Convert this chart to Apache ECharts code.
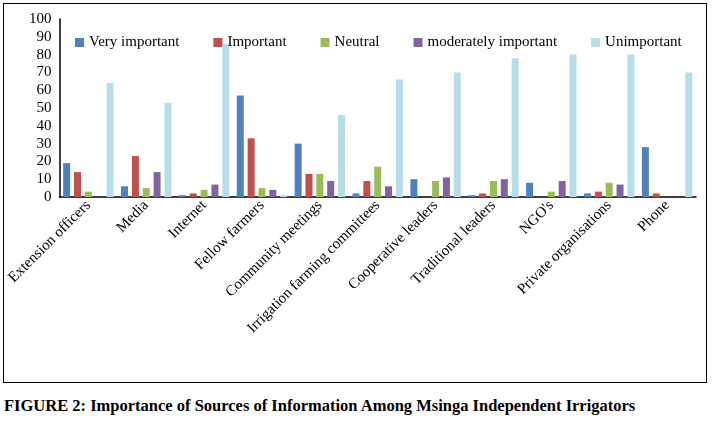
<!DOCTYPE html>
<html lang="en">
<head>
	<meta charset="UTF-8">
	<script src="https://cdn.jsdelivr.net/npm/echarts@6/dist/echarts.min.js"></script>
	<title>sources</title>
	<style>
		body { margin: 0; background: #fff; }
		#box { position: absolute; left: 3px; top: 3px; width: 702px; height: 378px; border: 1px solid #000; }
		#chart { width: 702px; height: 378px; }
		#cap { position: absolute; left: 4px; top: 396px; font: bold 16.5px "Liberation Serif", serif; white-space: nowrap; }
	</style>
</head>
<body>
	<div id="box"><div id="chart"></div></div>
	<div id="cap">FIGURE 2: Importance of Sources of Information Among Msinga Independent Irrigators</div>
	<script>
		var categories = ['Extension officers', 'Media', 'Internet', 'Fellow farmers', 'Community meetings',
			'Irrigation farming committees', 'Cooperative leaders', 'Traditional leaders', "NGO's",
			'Private organisations', 'Phone']
		var veryImportant = [19, 6, 1, 57, 30, 2, 10, 1, 8, 2, 28]
		var important = [14, 23, 2, 33, 13, 9, 0, 2, 0, 3, 2]
		var neutral = [3, 5, 4, 5, 13, 17, 9, 9, 3, 8, 0]
		var moderately = [0, 14, 7, 4, 9, 6, 11, 10, 9, 7, 0]
		var unimportant = [64, 53, 86, 1, 46, 66, 70, 78, 80, 80, 70]

		var serif = '"Liberation Serif", "Times New Roman", serif'
		var chart = echarts.init(document.getElementById('chart'))
		function bar(name, data, color) {
			return { name: name, type: 'bar', data: data, barWidth: 7, barGap: '55%',
				itemStyle: { color: color } }
		}
		chart.setOption({
			textStyle: { fontFamily: serif, color: '#000' },
			animation: false,
			legend: {
				top: 26, left: 66, itemWidth: 9, itemHeight: 9, itemGap: 34, icon: 'rect',
				textStyle: { fontFamily: serif, fontSize: 15, color: '#000' }
			},
			grid: { left: 48, right: 10, top: 15, height: 178 },
			xAxis: {
				type: 'category', data: categories,
				axisLine: { lineStyle: { color: '#000', width: 1.5 } },
				axisTick: { show: false },
				axisLabel: { rotate: 45, interval: 0, fontSize: 15, fontFamily: serif, color: '#000', margin: 6 }
			},
			yAxis: {
				type: 'value', min: 0, max: 100, interval: 10,
				splitLine: { show: false },
				axisLine: { show: true, lineStyle: { color: '#000', width: 1.5 } },
				axisTick: { show: false },
				axisLabel: { fontSize: 15, fontFamily: serif, color: '#000', margin: 8 }
			},
			series: [
				bar('Very important', veryImportant, '#4f81bd'),
				bar('Important', important, '#c0504d'),
				bar('Neutral', neutral, '#9bbb59'),
				bar('moderately important', moderately, '#8064a2'),
				bar('Unimportant', unimportant, '#b7dde8')
			]
		})
	</script>
</body>
</html>
